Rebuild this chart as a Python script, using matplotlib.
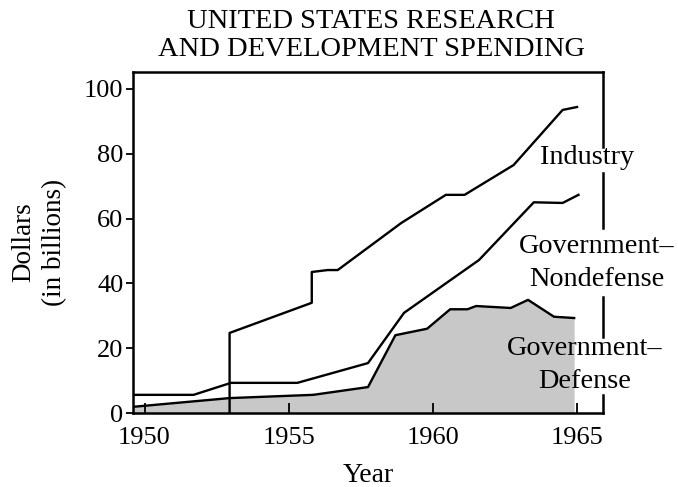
import matplotlib
matplotlib.use("Agg")
import matplotlib.pyplot as plt

plt.rcParams['font.family'] = ['Liberation Serif', 'DejaVu Serif']

# values (billions of dollars, stacked curves)
defense_years = [1949.6, 1952.95, 1955.85, 1957.75, 1958.7, 1959.8, 1960.6,
                 1961.2, 1961.5, 1962.7, 1963.3, 1964.2, 1964.9]
defense_vals = [1.9, 4.6, 5.6, 8.0, 24.0, 26.0, 32.0, 32.0, 33.0, 32.4,
                34.9, 29.7, 29.3]

nondef_years = [1949.6, 1951.7, 1953.0, 1955.3, 1957.75, 1959.0, 1961.6,
                1963.5, 1964.5, 1965.05]
nondef_vals = [5.6, 5.6, 9.3, 9.3, 15.4, 30.9, 47.2, 65.0, 64.8, 67.3]

industry_years = [1952.95, 1952.95, 1955.8, 1955.8, 1956.35, 1956.7, 1958.9,
                  1960.45, 1961.1, 1962.8, 1964.5, 1965.0]
industry_vals = [0, 24.7, 34.0, 43.5, 44.1, 44.1, 58.6, 67.3, 67.3, 76.5,
                 93.5, 94.4]

x_ticks = [1950, 1955, 1960, 1965]
y_ticks = [0, 20, 40, 60, 80, 100]

W, H = 678, 487
fig = plt.figure(figsize=(W/100, H/100), dpi=100, facecolor='white')
ax = fig.add_axes([133/W, 1-413/H, 470/W, 341/H])

lw = 1.7
ax.fill_between(defense_years, defense_vals, 0, color='#c8c8c8', lw=0)
ax.plot(defense_years, defense_vals, color='black', lw=lw)
ax.plot(nondef_years, nondef_vals, color='black', lw=lw)
ax.plot(industry_years, industry_vals, color='black', lw=lw)

ax.set_xlim(1949.6, 1965.9)
ax.set_ylim(0, 105.2)
ax.set_xticks(x_ticks)
ax.set_yticks(y_ticks)
ax.tick_params(axis='x', direction='in', length=7, width=1.3, labelsize=19, pad=10)
ax.tick_params(axis='y', direction='out', length=5, width=1.3, labelsize=19, pad=2)
for sp in ax.spines.values():
    sp.set_linewidth(1.8)

# right spine is broken where the series labels sit
ax.spines['right'].set_visible(False)
for y0, y1 in [(0.0, 0.053), (0.223, 0.340), (0.543, 0.704), (0.780, 1.0)]:
    ax.plot([1, 1], [y0, y1], transform=ax.transAxes, color='black',
            lw=1.8, clip_on=False, solid_capstyle='projecting')

ax.set_xlabel("Year", fontsize=20, labelpad=10)
ax.set_ylabel("Dollars\n(in billions)", fontsize=19.5, labelpad=12, linespacing=1.3)

fig.text(371/W, 1-9/H, "UNITED STATES RESEARCH\nAND DEVELOPMENT SPENDING",
         ha='center', va='top', fontsize=20.5, linespacing=1.18)

ax.text(587, H-158, "Industry", transform=None, fontsize=20.3, ha='center',
        va='center', zorder=5, clip_on=False)
ax.text(597, H-263, "Government\u2013\nNondefense", transform=None, fontsize=20.3,
        ha='center', va='center', linespacing=1.4, zorder=5, clip_on=False)
ax.text(585, H-365, "Government\u2013\nDefense", transform=None, fontsize=20.3,
        ha='center', va='center', linespacing=1.4, zorder=5, clip_on=False)

fig.savefig("out.png", dpi=100)
